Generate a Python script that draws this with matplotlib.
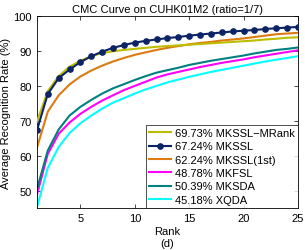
import matplotlib
matplotlib.use("Agg")
import matplotlib.pyplot as plt

plt.rcParams["font.family"] = ["Liberation Sans", "DejaVu Sans"]

ranks = list(range(1, 26))

mrank = [69.73, 78.5, 82.8, 85.5, 87.2, 88.5, 89.4, 89.9, 90.3, 90.6,
         90.9, 91.2, 91.4, 91.6, 91.8, 92.0, 92.2, 92.4, 92.6, 92.8,
         93.0, 93.3, 93.5, 93.8, 93.9]
mkssl = [67.24, 77.7, 82.2, 84.7, 86.8, 88.5, 89.8, 90.9, 91.7, 92.4,
         92.9, 93.3, 93.7, 94.0, 94.4, 94.7, 95.0, 95.3, 95.6, 95.8,
         96.0, 96.3, 96.5, 96.7, 96.9]
mkssl_1st = [62.24, 72.6, 77.3, 80.4, 82.7, 84.4, 85.8, 87.0, 88.0, 88.9,
             89.6, 90.3, 90.9, 91.4, 91.9, 92.3, 92.6, 93.0, 93.3, 93.6,
             94.0, 94.4, 94.8, 95.0, 95.2]
mkfsl = [48.78, 60.5, 66.3, 69.5, 72.0, 74.0, 75.8, 77.3, 78.8, 80.0,
         81.2, 82.4, 83.3, 84.0, 84.7, 85.4, 86.0, 86.6, 87.1, 87.6,
         88.2, 88.7, 89.2, 89.7, 90.2]
mksda = [50.39, 61.5, 67.5, 71.5, 74.0, 76.0, 77.8, 79.3, 80.5, 81.7,
         82.8, 83.8, 84.5, 85.2, 86.0, 86.6, 87.2, 87.7, 88.2, 88.7,
         89.3, 89.8, 90.3, 90.6, 91.0]
xqda = [45.18, 56.5, 62.5, 66.5, 69.3, 71.5, 73.5, 75.2, 76.5, 77.8,
        79.0, 80.0, 81.0, 81.8, 82.6, 83.3, 84.0, 84.6, 85.2, 85.8,
        86.4, 87.0, 87.5, 88.0, 88.5]

labels = ["69.73% MKSSL\u2212MRank", "67.24% MKSSL", "62.24% MKSSL(1st)",
          "48.78% MKFSL", "50.39% MKSDA", "45.18% XQDA"]

fig = plt.figure(figsize=(3.05, 2.51), dpi=100)
ax = fig.add_axes([0.121, 0.167, 0.856, 0.765])

lw = 1.5
h1, = ax.plot(ranks, mrank, color="#BDBD00", lw=lw, zorder=3)
h2, = ax.plot(ranks, mkssl, color="#0C2366", lw=lw, marker="o", ms=3.8, zorder=4)
h3, = ax.plot(ranks, mkssl_1st, color="#DD7A10", lw=lw, zorder=2)
h4, = ax.plot(ranks, mkfsl, color="#FF00FF", lw=lw, zorder=2)
h5, = ax.plot(ranks, mksda, color="#008080", lw=lw, zorder=2)
h6, = ax.plot(ranks, xqda, color="#00FFFF", lw=lw, zorder=2)

ax.set_xlim(1, 25)
ax.set_ylim(45, 100)
ax.set_xticks([5, 10, 15, 20, 25])
ax.set_yticks([50, 60, 70, 80, 90, 100])
ax.tick_params(direction="in", top=True, right=True, labelsize=8, length=3, width=0.5)
for s in ax.spines.values():
    s.set_linewidth(0.6)

ax.set_title("CMC Curve on CUHK01M2 (ratio=1/7)", fontsize=8, pad=3)
ax.set_xlabel("Rank\n(d)", fontsize=8, labelpad=2, linespacing=1.25)
ax.set_ylabel("Average Recognition Rate (%)", fontsize=8, labelpad=2)

leg = ax.legend([h1, h2, h3, h4, h5, h6], labels, loc="lower right", fontsize=8,
                frameon=True, fancybox=False, borderaxespad=0, handlelength=2.0,
                handletextpad=0.3, labelspacing=0.3, borderpad=0.3)
leg.get_frame().set_edgecolor("black")
leg.get_frame().set_linewidth(0.6)

fig.savefig("out.png", dpi=100)
